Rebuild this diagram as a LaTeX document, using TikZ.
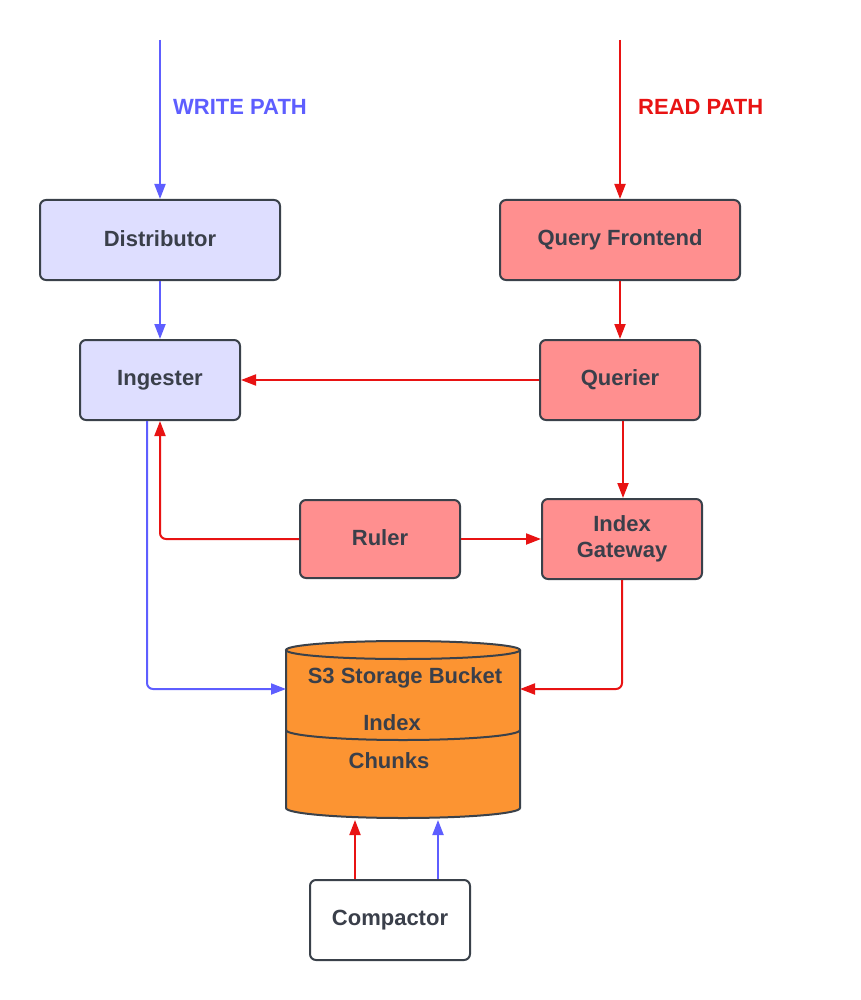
\documentclass[tikz,border=0pt]{standalone}
\usepackage{fontspec}
\setmainfont{Liberation Sans}
\usetikzlibrary{arrows.meta,positioning}
\definecolor{wblue}{HTML}{5E5EFF}
\definecolor{rred}{HTML}{E81313}
\definecolor{txt}{HTML}{3A3F4A}
\definecolor{bord}{HTML}{3A414A}
\definecolor{lblue}{HTML}{DEDEFF}
\definecolor{lred}{HTML}{FF8F8F}
\definecolor{orng}{HTML}{FC9432}
\begin{document}
\begin{tikzpicture}[x=1pt,y=-1pt,
  box/.style={draw=bord,line width=2pt,rounded corners=6pt,font=\fontsize{22}{26}\selectfont\bfseries,text=txt,align=center,inner sep=0pt,minimum height=80pt},
  wbox/.style={box,fill=lblue},
  rbox/.style={box,fill=lred},
  warr/.style={draw=wblue,line width=2pt,-{Triangle[length=15pt,width=11pt]},rounded corners=6pt},
  rarr/.style={draw=rred,line width=2pt,-{Triangle[length=15pt,width=11pt]},rounded corners=6pt},
  lbl/.style={font=\fontsize{22}{26}\selectfont\bfseries,inner sep=0pt,anchor=west},
  ctext/.style={font=\fontsize{22}{26}\selectfont\bfseries,text=txt,inner sep=0pt}]
\useasboundingbox (0,0) rectangle (860,1000);
% nodes
\node[wbox,minimum width=240pt] (dist) at (160,240) {\raisebox{2pt}{Distributor}};
\node[rbox,minimum width=240pt] (qf) at (620,240) {\raisebox{2pt}{Query Frontend}};
\node[wbox,minimum width=160pt] (ing) at (160,380) {\raisebox{2pt}{Ingester}};
\node[rbox,minimum width=160pt] (q) at (620,380) {\raisebox{2pt}{Querier}};
\node[rbox,minimum width=160pt,minimum height=78pt] (ruler) at (380,539) {\raisebox{2pt}{Ruler}};
\node[rbox,minimum width=160pt] (ig) at (622,539) {Index\\Gateway};
\node[box,fill=white,minimum width=160pt] (comp) at (390,920) {\raisebox{2pt}{Compactor}};
% cylinder
\fill[orng] (286,650) -- (286,808) arc[start angle=180,end angle=0,x radius=117,y radius=10] -- (520,650) arc[start angle=0,end angle=-180,x radius=117,y radius=9] -- cycle;
\draw[bord,line width=2pt] (286,650) -- (286,808) arc[start angle=180,end angle=0,x radius=117,y radius=10] -- (520,650);
\draw[bord,line width=2pt] (403,650) ellipse[x radius=117,y radius=9];
\draw[bord,line width=2pt] (286,730) arc[start angle=180,end angle=0,x radius=117,y radius=10];
\coordinate (cw) at (286,689);
\coordinate (ce) at (520,689);
\coordinate (cb1) at (355,820);
\coordinate (cb2) at (438,820);
\node[ctext] (s3) at (405,678) {S3 Storage Bucket};
\node[ctext] (idx) at (392,723) {Index};
\node[ctext] (chk) at (389,761) {Chunks};
% path starts
\coordinate (ws) at (160,40);
\coordinate (rs) at (620,40);
\node[lbl,text=wblue] (wl) at (173,107) {WRITE PATH};
\node[lbl,text=rred] (rl) at (638,107) {READ PATH};
% connectors
\draw[warr] (ws) -- (dist.north);
\draw[rarr] (rs) -- (qf.north);
\draw[warr] (dist.south) -- (ing.north);
\draw[rarr] (qf.south) -- (q.north);
\draw[rarr] (q.west) -- (ing.east);
\draw[rarr] ([xshift=3pt]q.south) -- ([xshift=1pt]ig.north);
\draw[rarr] (ruler.west) -| (ing.south);
\draw[rarr] (ruler.east) -- (ig.west);
\draw[warr] ([xshift=-13pt]ing.south) |- (cw);
\draw[rarr] (ig.south) |- (ce);
\draw[rarr] (comp.north -| cb1) -- (cb1);
\draw[warr] (comp.north -| cb2) -- (cb2);
\end{tikzpicture}
\end{document}
